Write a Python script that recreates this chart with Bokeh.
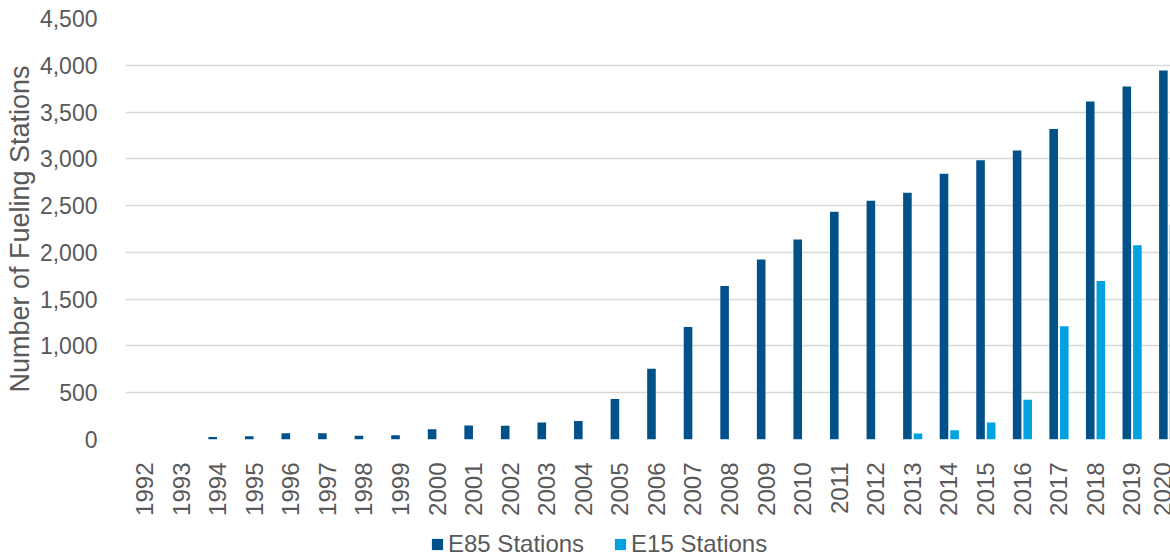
from bokeh.plotting import figure
from bokeh.layouts import column
from bokeh.models import (ColumnDataSource, Range1d, FixedTicker, NumeralTickFormatter,
                          Legend, LegendItem)
from bokeh.transform import dodge
from bokeh.embed import file_html
from bokeh.resources import INLINE
import math

# ---- data ----
years = list(range(1992, 2021))
year_labels = [str(y) for y in years]
e85_stations = [0, 0, 28, 35, 67, 67, 40, 46, 110, 150, 146, 181, 199, 434, 756, 1203,
                1640, 1924, 2137, 2435, 2553, 2638, 2840, 2985, 3089, 3320, 3614, 3774, 3944]
e15_stations = [0, 0, 0, 0, 0, 0, 0, 0, 0, 0, 0, 0, 0, 0, 0, 0,
                0, 0, 0, 0, 0, 64, 99, 181, 426, 1211, 1693, 2077, 2297]
y_ticks = [0, 500, 1000, 1500, 2000, 2500, 3000, 3500, 4000, 4500]
series_names = ["E85 Stations", "E15 Stations"]

E85_COLOR = "#005189"
E15_COLOR = "#00A3DF"
GREY_TEXT = "#595959"
FONT = "Liberation Sans"

src = ColumnDataSource(dict(year=years, e85=e85_stations, e15=e15_stations))

p = figure(width=1170, height=518, output_backend="svg", toolbar_location=None,
           x_range=Range1d(1991.48, 2020.06), y_range=Range1d(0, 4500),
           min_border_left=125, min_border_right=0, min_border_top=18, min_border_bottom=77)
p.outline_line_color = None
p.background_fill_color = "white"
p.border_fill_color = "white"

r1 = p.vbar(x=dodge("year", -0.135), top="e85", width=0.235, bottom=0,
            source=src, fill_color=E85_COLOR, line_color=None)
r2 = p.vbar(x=dodge("year", 0.155), top="e15", width=0.235, bottom=0,
            source=src, fill_color=E15_COLOR, line_color=None)

# y axis
p.yaxis.ticker = FixedTicker(ticks=y_ticks)
p.yaxis.formatter = NumeralTickFormatter(format="0,0")
p.yaxis.axis_line_color = None
p.yaxis.major_tick_line_color = None
p.yaxis.minor_tick_line_color = None
p.yaxis.major_label_text_font = FONT
p.yaxis.major_label_text_font_size = "23px"
p.yaxis.major_label_text_color = GREY_TEXT
p.yaxis.major_label_standoff = 22
p.yaxis.axis_label = "Number of Fueling Stations"
p.yaxis.axis_label_text_font = FONT
p.yaxis.axis_label_text_font_size = "27px"
p.yaxis.axis_label_text_font_style = "normal"
p.yaxis.axis_label_text_color = GREY_TEXT
p.yaxis.axis_label_standoff = 2

# x axis
p.xaxis.ticker = FixedTicker(ticks=years)
p.xaxis.major_label_overrides = {y: lab for y, lab in zip(years, year_labels)}
p.xaxis.major_label_orientation = math.pi / 2
p.xaxis.axis_line_color = None
p.xaxis.major_tick_line_color = None
p.xaxis.minor_tick_line_color = None
p.xaxis.major_label_text_font = FONT
p.xaxis.major_label_text_font_size = "24px"
p.xaxis.major_label_text_color = GREY_TEXT
p.xaxis.major_label_standoff = 17

# grid
p.xgrid.grid_line_color = None
p.ygrid.ticker = FixedTicker(ticks=y_ticks)
p.ygrid.grid_line_color = "#D9D9D9"
p.ygrid.grid_line_width = 1.6

# legend strip below the chart (swatch renderers sit outside the visible range)
p2 = figure(width=1170, height=40, output_backend="svg", toolbar_location=None,
            x_range=Range1d(0, 1), y_range=Range1d(0, 1),
            x_axis_location=None, y_axis_location=None, min_border=0)
p2.outline_line_color = None
p2.background_fill_color = "white"
p2.border_fill_color = "white"
p2.grid.visible = False
l1 = p2.vbar(x=[0.5], top=[-20], bottom=[-21], width=0.1, fill_color=E85_COLOR, line_color=None)
l2 = p2.vbar(x=[0.5], top=[-20], bottom=[-21], width=0.1, fill_color=E15_COLOR, line_color=None)
legend = Legend(items=[LegendItem(label=series_names[0], renderers=[l1]),
                       LegendItem(label=series_names[1], renderers=[l2])],
                orientation="horizontal", location=(305, 0),
                label_text_font=FONT, label_text_font_size="24px",
                label_text_color=GREY_TEXT, glyph_width=14, glyph_height=14,
                label_standoff=4, spacing=29, padding=0, margin=0,
                border_line_color=None, background_fill_alpha=0)
p2.add_layout(legend, "center")

layout = column(p, p2, spacing=0)
open("out.html", "w").write(file_html(layout, INLINE))
